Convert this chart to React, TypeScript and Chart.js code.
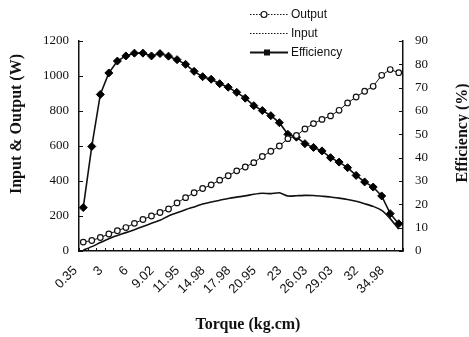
import React, { useEffect, useRef } from "react";
import { Chart, registerables } from "chart.js";

Chart.register(...registerables);

const TICK_LABELS = ["0.35", "3", "6", "9.02", "11.95", "14.98", "17.98", "20.95", "23", "26.03", "29.03", "32", "34.98"];
const POINT_COUNT = 38;
const CATEGORIES: string[] = Array.from({ length: POINT_COUNT }, (_, i) =>
  i % 3 === 0 && TICK_LABELS[i / 3] !== undefined ? TICK_LABELS[i / 3] : ""
);

const OUTPUT = [51, 60, 77, 97, 116, 134, 158, 180, 200, 220, 240, 275, 305, 333, 357, 378, 405, 430, 458, 480, 505, 540, 570, 600, 642, 660, 697, 728, 752, 772, 804, 846, 880, 913, 941, 1004, 1037, 1019];
const INPUT = [5, 25, 48, 70, 88, 105, 122, 140, 158, 176, 200, 218, 236, 252, 268, 280, 290, 300, 308, 315, 324, 330, 328, 333, 314, 316, 318, 317, 313, 309, 302, 294, 284, 270, 255, 232, 185, 125];
const EFFICIENCY = [18.6, 44.8, 67.1, 76.3, 81.4, 83.6, 84.8, 84.8, 83.6, 84.6, 83.5, 82.0, 80.0, 77.0, 74.7, 73.6, 71.7, 70.2, 68.0, 65.5, 62.3, 60.2, 58.0, 55.0, 50.0, 48.8, 46.0, 44.4, 42.9, 40.0, 38.1, 35.7, 32.4, 29.6, 27.4, 23.6, 16.0, 11.7];

const SERIES_NAMES = ["Output", "Input", "Efficiency"];
const LEFT_TITLE = "Input & Output (W)";
const RIGHT_TITLE = "Efficiency (%)";
const X_TITLE = "Torque (kg.cm)";

const INK = "#111";
const SERIF = "'Liberation Serif', 'DejaVu Serif', serif";
const SANS = "'Liberation Sans', Arial, sans-serif";

const overlay = {
  id: "overlay",
  afterDraw(chart: any) {
    const { ctx, chartArea: ca, scales } = chart;
    ctx.save();
    ctx.strokeStyle = INK;
    ctx.lineWidth = 1;
    // inward ticks on x axis (category boundaries)
    const xs = scales.x;
    const n = chart.data.labels.length;
    const step = (xs.getPixelForValue(n - 1) - xs.getPixelForValue(0)) / (n - 1);
    for (let i = 0; i <= n; i++) {
      const px = Math.round(xs.getPixelForValue(0) - step / 2 + i * step) + 0.5;
      ctx.beginPath();
      ctx.moveTo(px, ca.bottom);
      ctx.lineTo(px, ca.bottom - 3);
      ctx.stroke();
    }
    // inward ticks left axis
    scales.y.ticks.forEach((t: any) => {
      const py = Math.round(scales.y.getPixelForValue(t.value)) + 0.5;
      ctx.beginPath();
      ctx.moveTo(ca.left, py);
      ctx.lineTo(ca.left + 4, py);
      ctx.stroke();
    });
    scales.y1.ticks.forEach((t: any) => {
      const py = Math.round(scales.y1.getPixelForValue(t.value)) + 0.5;
      ctx.beginPath();
      ctx.moveTo(ca.right, py);
      ctx.lineTo(ca.right - 4, py);
      ctx.stroke();
    });

    // axis titles
    ctx.fillStyle = INK;
    ctx.font = `bold 16px ${SERIF}`;
    ctx.textAlign = "center";
    ctx.textBaseline = "middle";
    ctx.fillText(X_TITLE, 248, 325);
    ctx.save();
    ctx.translate(17, 124);
    ctx.rotate(-Math.PI / 2);
    ctx.fillText(LEFT_TITLE, 0, 0);
    ctx.restore();
    ctx.save();
    ctx.translate(463, 133);
    ctx.rotate(-Math.PI / 2);
    ctx.fillText(RIGHT_TITLE, 0, 0);
    ctx.restore();

    // legend
    const rows = [14, 33, 52];
    ctx.font = `12px ${SANS}`;
    ctx.textAlign = "left";
    rows.forEach((ry, k) => {
      const y = ry + 0.5;
      ctx.beginPath();
      if (k < 2) {
        ctx.setLineDash([1.5, 1.5]);
        ctx.lineWidth = 1;
      } else {
        ctx.setLineDash([]);
        ctx.lineWidth = 1.8;
      }
      ctx.moveTo(250, y);
      ctx.lineTo(288, y);
      ctx.stroke();
      ctx.setLineDash([]);
      if (k === 0) {
        ctx.beginPath();
        ctx.arc(264, y, 3, 0, Math.PI * 2);
        ctx.fillStyle = "#fff";
        ctx.fill();
        ctx.lineWidth = 1.2;
        ctx.stroke();
      } else if (k === 2) {
        ctx.fillStyle = INK;
        ctx.fillRect(264, y - 3, 6, 6);
      }
      ctx.fillStyle = INK;
      ctx.fillText(SERIES_NAMES[k], 291, ry + 1);
    });
    ctx.restore();
  },
};

export default function App() {
  const ref = useRef<HTMLCanvasElement | null>(null);
  useEffect(() => {
    document.body.style.margin = "0";
    const canvas = ref.current;
    if (!canvas) return;
    const chart = new Chart(canvas, {
      type: "line",
      data: {
        labels: CATEGORIES,
        datasets: [
          {
            label: SERIES_NAMES[0],
            data: OUTPUT,
            yAxisID: "y",
            borderColor: INK,
            borderWidth: 1,
            pointStyle: "circle",
            pointRadius: 2.8,
            pointBackgroundColor: "#fff",
            pointBorderColor: INK,
            pointBorderWidth: 1.2,
            tension: 0,
          },
          {
            label: SERIES_NAMES[1],
            data: INPUT,
            yAxisID: "y",
            borderColor: INK,
            borderWidth: 1.6,
            pointRadius: 0,
            tension: 0.2,
          },
          {
            label: SERIES_NAMES[2],
            data: EFFICIENCY,
            yAxisID: "y1",
            borderColor: INK,
            borderWidth: 1.6,
            pointStyle: "rectRot",
            pointRadius: 4,
            pointBackgroundColor: "#000",
            pointBorderColor: "#000",
            pointBorderWidth: 1,
            tension: 0,
          },
        ],
      },
      options: {
        responsive: false,
        animation: false,
        layout: { padding: { top: 41, left: 0, right: 0, bottom: 0 } },
        plugins: { legend: { display: false }, title: { display: false }, tooltip: { enabled: false } },
        scales: {
          x: {
            type: "category",
            offset: true,
            grid: { display: false, drawTicks: false },
            border: { display: true, color: INK, width: 1.5 },
            ticks: {
              autoSkip: false,
              minRotation: 45,
              maxRotation: 45,
              padding: 12,
              labelOffset: -8,
              color: INK,
              font: { family: SANS, size: 13 },
              callback: (_v: any, i: number) => CATEGORIES[i],
            },
            afterFit: (s: any) => {
              s.height = 86;
            },
          },
          y: {
            position: "left",
            min: 0,
            max: 1200,
            grid: { display: false, drawTicks: false },
            border: { display: true, color: INK, width: 1.5 },
            ticks: {
              stepSize: 200,
              padding: 10,
              color: INK,
              font: { family: SERIF, size: 13 },
              callback: (v: any) => String(v),
            },
            afterFit: (s: any) => {
              s.width = 79;
            },
          },
          y1: {
            position: "right",
            min: 0,
            max: 90,
            grid: { display: false, drawTicks: false },
            border: { display: true, color: INK, width: 1.5 },
            ticks: {
              stepSize: 10,
              padding: 12,
              color: INK,
              font: { family: SERIF, size: 13 },
              callback: (v: any) => String(v),
            },
            afterFit: (s: any) => {
              s.width = 66;
            },
          },
        },
      },
      plugins: [overlay],
    });
    return () => chart.destroy();
  }, []);
  return <canvas ref={ref} width={469} height={337} style={{ display: "block" }} />;
}
